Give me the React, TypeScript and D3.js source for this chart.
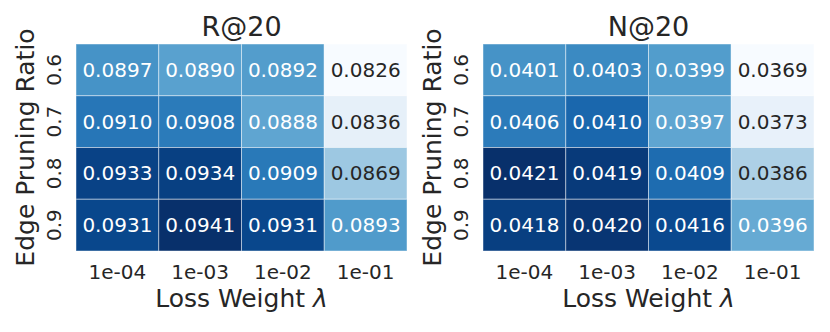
import React from "react";
import * as d3 from "d3";

const lambdas = ["1e-04", "1e-03", "1e-02", "1e-01"];
const ratios = ["0.6", "0.7", "0.8", "0.9"];

// rows = pruning ratio, columns = loss weight
const recall = [
  [0.0897, 0.089, 0.0892, 0.0826],
  [0.091, 0.0908, 0.0888, 0.0836],
  [0.0933, 0.0934, 0.0909, 0.0869],
  [0.0931, 0.0941, 0.0931, 0.0893]
];
const ndcg = [
  [0.0401, 0.0403, 0.0399, 0.0369],
  [0.0406, 0.041, 0.0397, 0.0373],
  [0.0421, 0.0419, 0.0409, 0.0386],
  [0.0418, 0.042, 0.0416, 0.0396]
];

const W = 830;
const H = 332;
const FONT = "'DejaVu Sans', sans-serif";
const INK = "#262626";

const luminance = (c) => {
  const rgb = d3.rgb(c);
  const lin = (v) => {
    const s = v / 255;
    return s <= 0.03928 ? s / 12.92 : Math.pow((s + 0.055) / 1.055, 2.4);
  };
  return 0.2126 * lin(rgb.r) + 0.7152 * lin(rgb.g) + 0.0722 * lin(rgb.b);
};

const Heatmap = ({ title, values, left }) => {
  const top = 44;
  const width = 331;
  const height = 207;

  const x = d3.scaleBand().domain(lambdas).range([left, left + width]);
  const y = d3.scaleBand().domain(ratios).range([top, top + height]);
  const flat = values.flat();
  const color = d3
    .scaleSequential(d3.interpolateBlues)
    .domain(d3.extent(flat));

  return (
    <g fontFamily={FONT}>
      <text
        x={left + width / 2}
        y={36}
        textAnchor="middle"
        fontSize={27}
        fill={INK}
      >
        {title}
      </text>
      {values.map((row, i) =>
        row.map((v, j) => {
          const fill = color(v);
          return (
            <g key={`${i}-${j}`}>
              <rect
                x={x(lambdas[j])}
                y={y(ratios[i])}
                width={x.bandwidth()}
                height={y.bandwidth()}
                fill={fill}
                stroke="rgba(255,255,255,0.45)"
                strokeWidth={1}
              />
              <text
                x={x(lambdas[j]) + x.bandwidth() / 2}
                y={y(ratios[i]) + y.bandwidth() / 2}
                textAnchor="middle"
                dominantBaseline="central"
                fontSize={20}
                fill={luminance(fill) > 0.408 ? INK : "#ffffff"}
              >
                {v.toFixed(4)}
              </text>
            </g>
          );
        })
      )}
      {lambdas.map((l) => (
        <text
          key={l}
          x={x(l) + x.bandwidth() / 2}
          y={279}
          textAnchor="middle"
          fontSize={20}
          fill={INK}
        >
          {l}
        </text>
      ))}
      {ratios.map((r) => (
        <text
          key={r}
          transform={`translate(${left - 22},${y(r) + y.bandwidth() / 2}) rotate(-90)`}
          textAnchor="middle"
          dominantBaseline="central"
          fontSize={20}
          fill={INK}
        >
          {r}
        </text>
      ))}
      <text
        x={left + width / 2}
        y={307}
        textAnchor="middle"
        fontSize={25}
        fill={INK}
      >
        Loss Weight <tspan fontStyle="italic">λ</tspan>
      </text>
      <text
        transform={`translate(${left - 51},${top + height / 2}) rotate(-90)`}
        textAnchor="middle"
        dominantBaseline="central"
        fontSize={25}
        fill={INK}
      >
        Edge Pruning Ratio
      </text>
    </g>
  );
};

export default function App() {
  return (
    <svg
      width={W}
      height={H}
      style={{ position: "absolute", left: 0, top: 0, background: "#fff" }}
    >
      <Heatmap title="R@20" values={recall} left={76} />
      <Heatmap title="N@20" values={ndcg} left={483} />
    </svg>
  );
}
